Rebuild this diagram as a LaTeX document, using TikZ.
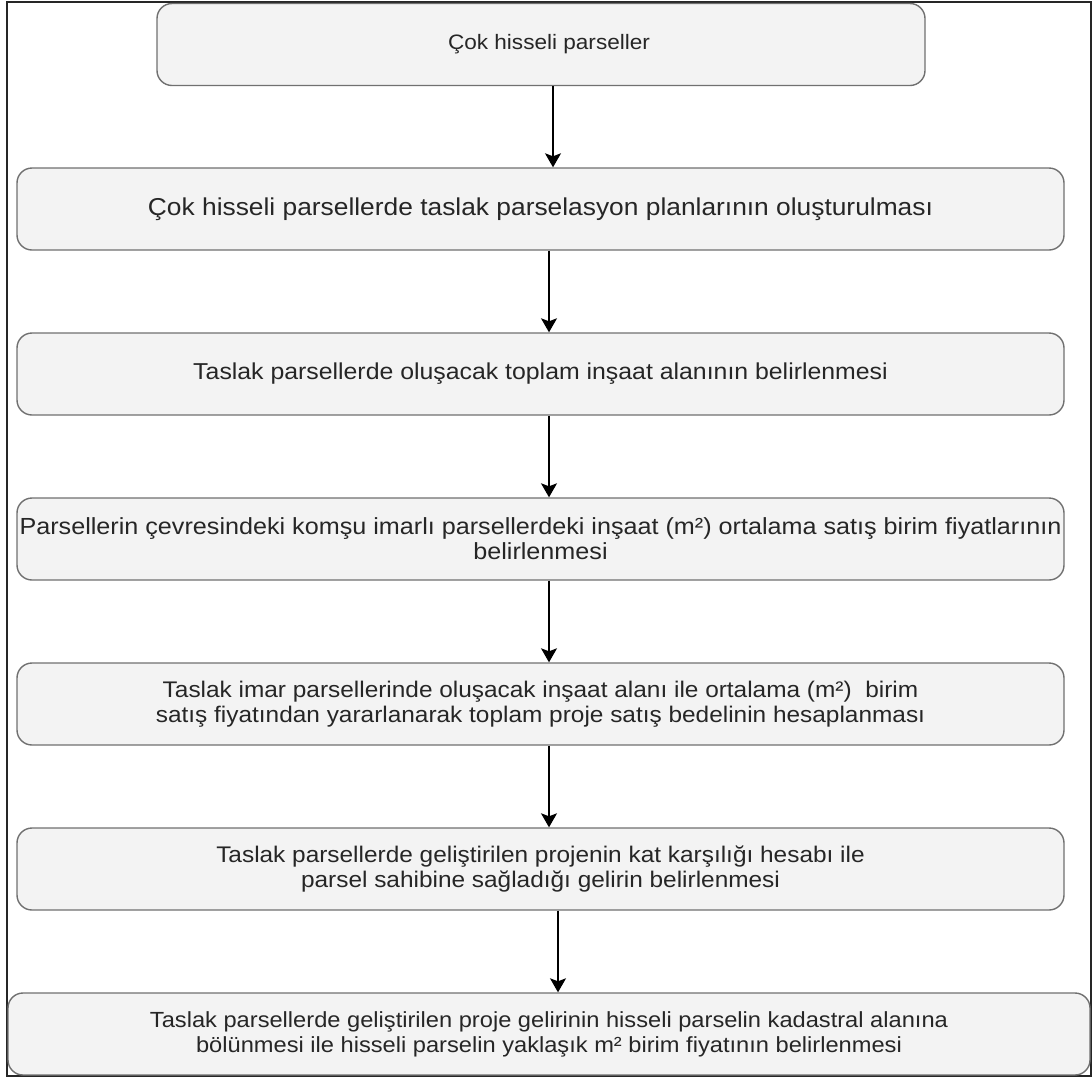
\documentclass[tikz,border=0pt]{standalone}
\usepackage{fontspec}
\setmainfont{Liberation Sans}[FakeStretch=1.08]
\usetikzlibrary{arrows.meta}
\definecolor{boxfill}{HTML}{F3F3F3}
\definecolor{boxline}{HTML}{707070}
\begin{document}
\begin{tikzpicture}[x=1pt,y=-1pt,
  flowbox/.style={draw=boxline,line width=1.4pt,fill=boxfill,rounded corners=15pt,
    minimum height=82pt,align=center,inner sep=0pt,text=black!85},
  fs/.style={font=\fontsize{#1}{25}\selectfont},
  flowarrow/.style={draw=black,line width=1.3pt,-{Stealth[length=14pt,width=16pt,inset=3pt]}}]
\useasboundingbox (0,0) rectangle (1092,1077);
\draw[line width=1.5pt,black!85] (7,2) rectangle (1091,1076);
\node[flowbox,fs=20.9,minimum width=768pt] (b1) at (541,44.5) {\hspace*{16pt}Çok hisseli parseller};
\node[flowbox,fs=24.4,minimum width=1047pt] (b2) at (540.5,209) {Çok hisseli parsellerde taslak parselasyon planlarının oluşturulması};
\node[flowbox,fs=23,minimum width=1047pt] (b3) at (540.5,374) {Taslak parsellerde oluşacak toplam inşaat alanının belirlenmesi};
\node[flowbox,fs=23.3,minimum width=1047pt] (b4) at (540.5,539) {Parsellerin çevresindeki komşu imarlı parsellerdeki inşaat (m²) ortalama satış birim fiyatlarının\\belirlenmesi};
\node[flowbox,fs=22.6,minimum width=1047pt] (b5) at (540.5,704) {Taslak imar parsellerinde oluşacak inşaat alanı ile ortalama (m²)~~birim\\satış fiyatından yararlanarak toplam proje satış bedelinin hesaplanması};
\node[flowbox,fs=22.6,minimum width=1047pt] (b6) at (540.5,869) {Taslak parsellerde geliştirilen projenin kat karşılığı hesabı ile\\parsel sahibine sağladığı gelirin belirlenmesi};
\node[flowbox,fs=21.9,minimum width=1082pt] (b7) at (549,1034) {Taslak parsellerde geliştirilen proje gelirinin hisseli parselin kadastral alanına\\bölünmesi ile hisseli parselin yaklaşık m² birim fiyatının belirlenmesi};
\draw[flowarrow] (b1.south -| 553,0) -- (b2.north -| 553,0);
\draw[flowarrow] (b2.south -| 549,0) -- (b3.north -| 549,0);
\draw[flowarrow] (b3.south -| 549,0) -- (b4.north -| 549,0);
\draw[flowarrow] (b4.south -| 549,0) -- (b5.north -| 549,0);
\draw[flowarrow] (b5.south -| 549,0) -- (b6.north -| 549,0);
\draw[flowarrow] (b6.south -| 558,0) -- (b7.north -| 558,0);
\end{tikzpicture}
\end{document}
